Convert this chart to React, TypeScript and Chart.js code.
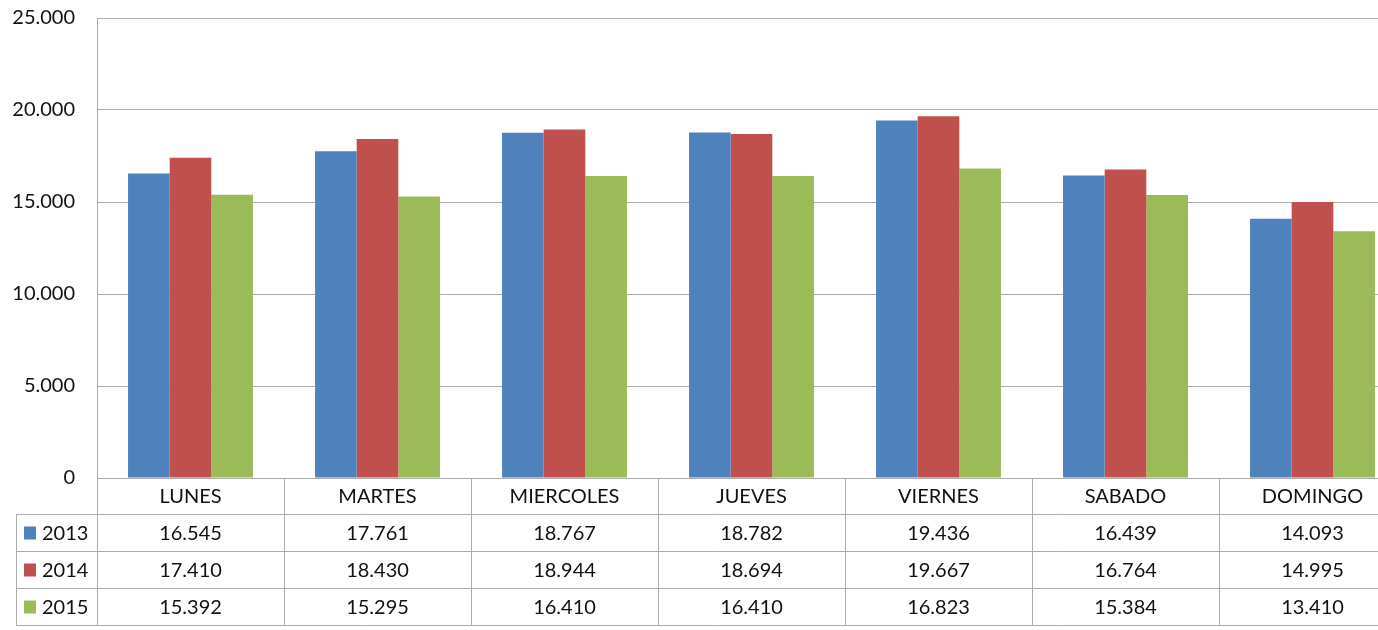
import React, { useEffect, useRef } from "react";
import { Chart, registerables } from "chart.js";

Chart.register(...registerables);

const categories = ["LUNES", "MARTES", "MIERCOLES", "JUEVES", "VIERNES", "SABADO", "DOMINGO"];
const seriesNames = ["2013", "2014", "2015"];
const values2013 = [16545, 17761, 18767, 18782, 19436, 16439, 14093];
const values2014 = [17410, 18430, 18944, 18694, 19667, 16764, 14995];
const values2015 = [15392, 15295, 16410, 16410, 16823, 15384, 13410];
const seriesColors = ["#4F81BD", "#C0504D", "#9BBB59"];
const yTicks = [0, 5000, 10000, 15000, 20000, 25000];

const FONT = "Lato, 'DejaVu Sans', sans-serif";
const LINE = "#ABABAB";

const fmt = (v: number) => {
  const s = Math.round(v).toString();
  return s.replace(/\B(?=(\d{3})+(?!\d))/g, ".");
};

const tablePlugin = {
  id: "dataTable",
  afterDraw(chart: any) {
    const ctx = chart.ctx;
    const x = chart.scales.x;
    const area = chart.chartArea;
    const all = [values2013, values2014, values2015];
    const catW = x.getPixelForValue(1) - x.getPixelForValue(0);
    const rowTops = [area.bottom, 514, 551, 588];
    const tableBottom = 625;
    const leftEdge = 16;
    const right = area.right + 10;
    ctx.save();
    ctx.strokeStyle = LINE;
    ctx.lineWidth = 1;
    ctx.beginPath();
    for (let r = 1; r < rowTops.length; r++) {
      ctx.moveTo(leftEdge, rowTops[r] + 0.5);
      ctx.lineTo(right, rowTops[r] + 0.5);
    }
    ctx.moveTo(leftEdge, tableBottom + 0.5);
    ctx.lineTo(right, tableBottom + 0.5);
    ctx.moveTo(Math.round(area.left) + 0.5, area.bottom);
    ctx.lineTo(Math.round(area.left) + 0.5, tableBottom);
    ctx.moveTo(leftEdge + 0.5, rowTops[1]);
    ctx.lineTo(leftEdge + 0.5, tableBottom);
    for (let i = 0; i < categories.length; i++) {
      const bx = Math.round(x.getPixelForValue(i) + catW / 2) + 0.5;
      ctx.moveTo(bx, area.bottom);
      ctx.lineTo(bx, tableBottom);
    }
    ctx.stroke();

    ctx.fillStyle = "#111";
    ctx.font = `20px ${FONT}`;
    ctx.textAlign = "center";
    ctx.textBaseline = "middle";
    const headerMid = (rowTops[0] + rowTops[1]) / 2 + 1;
    categories.forEach((c, i) => {
      ctx.fillText(c, x.getPixelForValue(i), headerMid);
    });
    for (let s = 0; s < 3; s++) {
      const top = rowTops[s + 1];
      const bottom = s + 2 < rowTops.length ? rowTops[s + 2] : tableBottom;
      const mid = (top + bottom) / 2 + 1;
      ctx.textAlign = "center";
      ctx.fillStyle = "#111";
      all[s].forEach((v, i) => {
        ctx.fillText(fmt(v), x.getPixelForValue(i), mid);
      });
      ctx.fillStyle = seriesColors[s];
      ctx.fillRect(24, mid - 7, 12, 13);
      ctx.fillStyle = "#111";
      ctx.textAlign = "left";
      ctx.fillText(seriesNames[s], 42, mid);
    }
    ctx.restore();
  },
};

export default function App() {
  const ref = useRef<HTMLCanvasElement | null>(null);
  useEffect(() => {
    if (!ref.current) return;
    const chart = new Chart(ref.current, {
      type: "bar",
      data: {
        labels: categories,
        datasets: [values2013, values2014, values2015].map((d, i) => ({
          label: seriesNames[i],
          data: d,
          backgroundColor: seriesColors[i],
          borderWidth: 0,
          categoryPercentage: 0.668,
          barPercentage: 1.0,
        })),
      },
      options: {
        responsive: false,
        animation: false,
        devicePixelRatio: 1,
        layout: { padding: { top: 18, bottom: 152, left: 0, right: 4 } },
        plugins: { legend: { display: false }, tooltip: { enabled: false } },
        scales: {
          x: { display: false },
          y: {
            min: 0,
            max: 25000,
            afterBuildTicks: (s: any) => {
              s.ticks = yTicks.map((v) => ({ value: v }));
            },
            afterFit: (s: any) => {
              s.width = 97;
              s.paddingTop = 0;
              s.paddingBottom = 0;
            },
            ticks: {
              padding: 22,
              color: "#111",
              font: { family: FONT, size: 20 },
              callback: (v: any) => fmt(Number(v)),
            },
            grid: { color: LINE, drawTicks: false },
            border: { color: LINE },
          },
        },
      },
      plugins: [tablePlugin],
    });
    return () => chart.destroy();
  }, []);
  return (
    <div style={{ position: "fixed", left: 0, top: 0, width: 1378, height: 630, overflow: "hidden", background: "#fff" }}>
      <canvas ref={ref} width={1410} height={630} style={{ display: "block" }} />
    </div>
  );
}
